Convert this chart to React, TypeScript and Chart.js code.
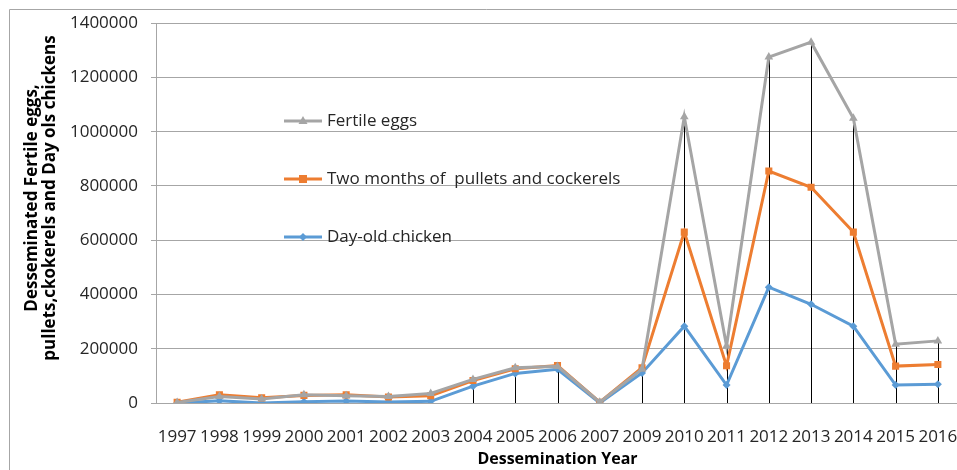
import React, { useEffect, useRef } from "react";
import { Chart, registerables } from "chart.js";

Chart.register(...registerables);

const years = ["1997", "1998", "1999", "2000", "2001", "2002", "2003", "2004", "2005", "2006", "2007", "2009", "2010", "2011", "2012", "2013", "2014", "2015", "2016"];
const fertileEggs = [2000, 24000, 15000, 30000, 27000, 24000, 35000, 87000, 130000, 135000, 3000, 125000, 1055000, 210000, 1275000, 1330000, 1050000, 217000, 229000];
const pulletsCockerels = [3000, 30000, 19000, 28000, 30000, 22000, 27000, 83000, 126000, 138000, 3000, 130000, 630000, 137000, 855000, 795000, 630000, 136000, 142000];
const dayOldChicken = [0, 8000, 0, 5000, 7000, 4000, 6000, 62000, 109000, 124000, 0, 111000, 283000, 66000, 427000, 364000, 283000, 66000, 69000];
const yTickValues = [0, 200000, 400000, 600000, 800000, 1000000, 1200000, 1400000];
const seriesNames = ["Fertile eggs", "Two months of  pullets and cockerels", "Day-old chicken"];
const xTitle = "Dessemination Year";
const yTitleLines = ["Desseminated Fertile eggs,", "pullets,ckokerels and Day ols chickens"];

const GRAY = "#A5A5A5";
const ORANGE = "#ED7D31";
const BLUE = "#5B9BD5";
const FONT = "'Open Sans', 'Liberation Sans', sans-serif";

function drawMarker(ctx: CanvasRenderingContext2D, style: string, x: number, y: number, r: number, color: string) {
  ctx.save();
  ctx.fillStyle = color;
  ctx.beginPath();
  if (style === "triangle") {
    ctx.moveTo(x, y - r);
    ctx.lineTo(x + r * 0.9, y + r * 0.6);
    ctx.lineTo(x - r * 0.9, y + r * 0.6);
  } else if (style === "rect") {
    ctx.rect(x - r, y - r, 2 * r, 2 * r);
  } else {
    ctx.moveTo(x, y - r);
    ctx.lineTo(x + r, y);
    ctx.lineTo(x, y + r);
    ctx.lineTo(x - r, y);
  }
  ctx.closePath();
  ctx.fill();
  ctx.restore();
}

const decorPlugin = {
  id: "decor",
  beforeDraw(chart: any) {
    const ctx = chart.ctx as CanvasRenderingContext2D;
    ctx.save();
    ctx.strokeStyle = "#a6a6a6";
    ctx.lineWidth = 1;
    ctx.beginPath();
    ctx.moveTo(9.5, chart.height);
    ctx.lineTo(9.5, 9.5);
    ctx.lineTo(chart.width, 9.5);
    ctx.stroke();
    ctx.restore();
  },
  beforeDatasetsDraw(chart: any) {
    const ctx = chart.ctx as CanvasRenderingContext2D;
    const xs = chart.scales.x;
    const ys = chart.scales.y;
    ctx.save();
    ctx.strokeStyle = "#000";
    ctx.lineWidth = 1;
    years.forEach((_, i) => {
      const m = Math.max(...chart.data.datasets.map((d: any) => d.data[i]));
      const px = Math.round(xs.getPixelForValue(i)) + 0.5;
      ctx.beginPath();
      ctx.moveTo(px, ys.getPixelForValue(m));
      ctx.lineTo(px, ys.getPixelForValue(0));
      ctx.stroke();
    });
    ctx.restore();
  },
  afterDraw(chart: any) {
    const ctx = chart.ctx as CanvasRenderingContext2D;
    const entries = [
      { name: seriesNames[0], color: GRAY, style: "triangle", y: 121, r: 5 },
      { name: seriesNames[1], color: ORANGE, style: "rect", y: 179, r: 4 },
      { name: seriesNames[2], color: BLUE, style: "rectRot", y: 237, r: 4 },
    ];
    ctx.save();
    entries.forEach((e) => {
      ctx.strokeStyle = e.color;
      ctx.lineWidth = 3;
      ctx.beginPath();
      ctx.moveTo(284, e.y);
      ctx.lineTo(322, e.y);
      ctx.stroke();
      drawMarker(ctx, e.style, 303, e.y, e.r, e.color);
      ctx.fillStyle = "#262626";
      ctx.font = `17px ${FONT}`;
      ctx.textBaseline = "middle";
      ctx.textAlign = "left";
      ctx.fillText(e.name, 327, e.y);
    });
    ctx.fillStyle = "#000";
    ctx.font = `bold 17px ${FONT}`;
    ctx.textAlign = "center";
    ctx.textBaseline = "middle";
    const cx = [32, 50];
    yTitleLines.forEach((line, i) => {
      ctx.save();
      ctx.translate(cx[i], 198);
      ctx.rotate(-Math.PI / 2);
      ctx.fillText(line, 0, 0);
      ctx.restore();
    });
    ctx.restore();
  },
};

export default function App() {
  const ref = useRef<HTMLCanvasElement>(null);
  useEffect(() => {
    if (!ref.current) return;
    const chart = new Chart(ref.current, {
      type: "line",
      data: {
        labels: years,
        datasets: [
          {
            label: seriesNames[0],
            data: fertileEggs,
            borderColor: GRAY,
            backgroundColor: GRAY,
            borderWidth: 3,
            pointStyle: "triangle",
            pointRadius: 5,
            pointBorderWidth: 0,
            order: 0,
          },
          {
            label: seriesNames[1],
            data: pulletsCockerels,
            borderColor: ORANGE,
            backgroundColor: ORANGE,
            borderWidth: 3,
            pointStyle: "rect",
            pointRadius: 5,
            pointBorderWidth: 0,
            order: 1,
          },
          {
            label: seriesNames[2],
            data: dayOldChicken,
            borderColor: BLUE,
            backgroundColor: BLUE,
            borderWidth: 3,
            pointStyle: "rectRot",
            pointRadius: 4,
            pointBorderWidth: 0,
            order: 2,
          },
        ],
      },
      options: {
        responsive: false,
        animation: false,
        devicePixelRatio: 1,
        layout: { padding: { top: 22, left: 0, right: 0, bottom: 0 } },
        plugins: { legend: { display: false }, tooltip: { enabled: false } },
        scales: {
          x: {
            offset: true,
            grid: { display: true, drawOnChartArea: false, drawTicks: true, tickLength: 24, color: "rgba(0,0,0,0)" },
            border: { display: true, color: "#a6a6a6", width: 1 },
            ticks: {
              autoSkip: false,
              maxRotation: 0,
              padding: 0,
              color: "#262626",
              font: { family: FONT, size: 17 },
            },
            title: {
              display: true,
              text: xTitle,
              color: "#000",
              font: { family: FONT, size: 16, weight: "bold" },
              padding: { top: 0, bottom: 1 },
            },
            afterFit: (s: any) => {
              s.height = 67;
            },
          },
          y: {
            min: 0,
            max: 1400000,
            grid: { color: "#a6a6a6", lineWidth: 1, tickLength: 5 },
            border: { display: true, color: "#a6a6a6", width: 1 },
            afterBuildTicks: (s: any) => {
              s.ticks = yTickValues.map((v) => ({ value: v }));
            },
            ticks: {
              padding: 13,
              color: "#262626",
              font: { family: FONT, size: 17 },
              callback: (v: any) => String(v),
            },
            afterFit: (s: any) => {
              s.width = 156;
            },
          },
        },
      },
      plugins: [decorPlugin],
    });
    return () => chart.destroy();
  }, []);
  return (
    <div style={{ position: "absolute", left: 0, top: 0, width: 957, height: 470, overflow: "hidden", background: "#fff" }}>
      <canvas ref={ref} width={964} height={470} style={{ display: "block", width: 964, height: 470 }} />
    </div>
  );
}
